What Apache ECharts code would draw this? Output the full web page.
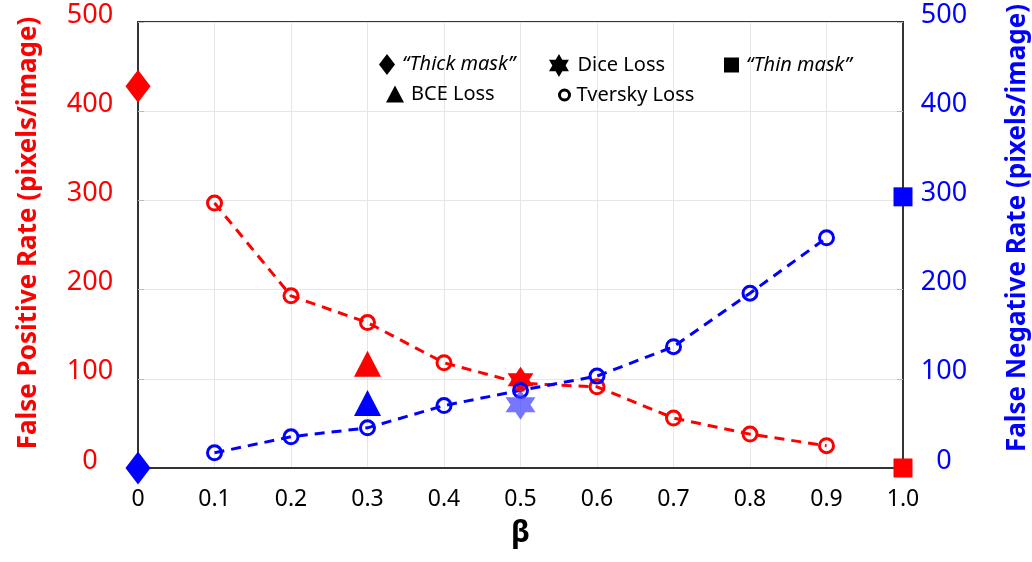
<!DOCTYPE html>
<html>
<head>
<meta charset="utf-8">
<script src="https://cdn.jsdelivr.net/npm/echarts@6/dist/echarts.min.js"></script>
<style>
  html, body { margin: 0; padding: 0; background: #fff; }
  #chart { width: 1032px; height: 562px; }
</style>
</head>
<body>
<div id="chart"></div>
<script>
// beta values and tick labels
const betas = [0.1, 0.2, 0.3, 0.4, 0.5, 0.6, 0.7, 0.8, 0.9];
const xLabels = ['0', '0.1', '0.2', '0.3', '0.4', '0.5', '0.6', '0.7', '0.8', '0.9', '1.0'];

// Tversky loss (FP on left axis, FN on right axis)
const tverskyFP = [297, 193, 163, 118, 95, 91, 56, 38, 25];
const tverskyFN = [17, 35, 45, 70, 87, 103, 136, 196, 258];

// single-point methods: [beta, value]
const thickFP = [[0, 428]];
const thickFN = [[0, 0]];
const thinFP = [[1.0, 0]];
const thinFN = [[1.0, 304]];
const bceFP = [[0.3, 117]];
const bceFN = [[0.3, 73]];
const diceFP = [[0.5, 99]];
const diceFN = [[0.5, 71]];

const RED = '#ff0000';
const BLUE = '#0000ff';
const FONT = 'Noto Sans';
const star = 'path://M0,-10 L8.66,5 L-8.66,5 Z M0,10 L-8.66,-5 L8.66,-5 Z';

const chart = echarts.init(document.getElementById('chart'));

function point(name, data, yIdx, color, symbol, size, z) {
  return {
    name: name,
    type: 'scatter',
    yAxisIndex: yIdx,
    data: data,
    symbol: symbol,
    symbolSize: size,
    clip: false,
    z: z || 3,
    itemStyle: { color: color, opacity: 1 }
  };
}

function tversky(data, yIdx, color) {
  return {
    name: 'Tversky Loss',
    type: 'line',
    yAxisIndex: yIdx,
    data: betas.map((b, i) => [b, data[i]]),
    symbol: 'circle',
    symbolSize: 14,
    showAllSymbol: true,
    z: 4,
    lineStyle: { color: color, width: 3, type: [10, 7] },
    itemStyle: { color: 'rgba(255,255,255,0)', borderColor: color, borderWidth: 3 }
  };
}

function legendAt(left, top, name, icon, w, h, italic, hollow) {
  return {
    left: left,
    top: top,
    selectedMode: false,
    itemWidth: w,
    itemHeight: h,
    itemGap: 0,
    textStyle: { fontFamily: FONT, fontSize: 20, color: '#000', fontStyle: italic ? 'italic' : 'normal', padding: [0, 0, 0, 2] },
    data: [{
      name: name,
      icon: icon,
      itemStyle: hollow
        ? { color: 'rgba(255,255,255,0)', borderColor: '#000', borderWidth: 3 }
        : { color: '#000', opacity: 1 }
    }]
  };
}

function yLabel(color, margin) {
  return {
    color: color, fontFamily: FONT, fontSize: 27, margin: margin, align: 'center',
    formatter: v => '{v|' + v + '}',
    rich: { v: { color: color, fontFamily: FONT, fontSize: 27, padding: [0, 0, 14, 0] } }
  };
}

chart.setOption({
  animation: false,
  backgroundColor: '#fff',
  grid: {
    left: 138, right: 129, top: 22, bottom: 94,
    outerBoundsMode: 'none',
    containLabel: false,
    show: true, borderColor: '#333', borderWidth: 2
  },
  legend: [
    legendAt(374, 49, '\u201cThick mask\u201d', 'diamond', 16, 21, true),
    legendAt(544, 49, 'Dice Loss', star, 23, 23, false),
    legendAt(719, 50, '\u201cThin mask\u201d', 'rect', 15, 15, true),
    legendAt(381, 79, 'BCE Loss', 'triangle', 18, 17, false),
    legendAt(553, 80, 'Tversky Loss', 'circle', 10, 10, false, true)
  ],
  xAxis: {
    type: 'value',
    min: 0, max: 1, interval: 0.1,
    name: '\u03b2',
    nameLocation: 'middle',
    nameGap: 50,
    nameTextStyle: { fontFamily: FONT, fontSize: 30, fontWeight: 'bold', color: '#000' },
    axisLine: { onZero: false, lineStyle: { color: '#333', width: 2 } },
    axisTick: { show: false },
    splitLine: { show: true, lineStyle: { color: '#e6e6e6', width: 1 } },
    axisLabel: {
      color: '#000', fontFamily: FONT, fontSize: 23, margin: 20,
      formatter: v => xLabels[Math.round(v * 10)]
    }
  },
  yAxis: [{
    type: 'value',
    min: 0, max: 500, interval: 100,
    position: 'left',
    name: 'False Positive Rate (pixels/image)',
    nameLocation: 'middle',
    nameRotate: 90,
    nameGap: 96,
    nameTextStyle: { fontFamily: FONT, fontSize: 26, fontWeight: 'bold', color: RED, padding: [0, 0, 0, 24] },
    axisLine: { show: true, lineStyle: { color: '#333', width: 2 } },
    axisTick: { show: true, inside: true, length: 6, lineStyle: { color: '#bbb' } },
    splitLine: { show: true, lineStyle: { color: '#e6e6e6', width: 1 } },
    axisLabel: yLabel(RED, 48)
  }, {
    type: 'value',
    min: 0, max: 500, interval: 100,
    position: 'right',
    name: 'False Negative Rate (pixels/image)',
    nameLocation: 'middle',
    nameRotate: 90,
    nameGap: 102,
    nameTextStyle: { fontFamily: FONT, fontSize: 26, fontWeight: 'bold', color: BLUE, padding: [0, 0, 0, 34] },
    axisLine: { show: true, lineStyle: { color: '#333', width: 2 } },
    axisTick: { show: true, inside: true, length: 6, lineStyle: { color: '#bbb' } },
    splitLine: { show: false },
    axisLabel: yLabel(BLUE, 41)
  }],
  series: [
    point('\u201cThick mask\u201d', thickFP, 0, RED, 'diamond', [25, 33]),
    point('\u201cThick mask\u201d', thickFN, 1, BLUE, 'diamond', [25, 33]),
    point('\u201cThin mask\u201d', thinFP, 0, RED, 'rect', 19),
    point('\u201cThin mask\u201d', thinFN, 1, BLUE, 'rect', 19),
    point('BCE Loss', bceFP, 0, RED, 'triangle', [27, 26]),
    point('BCE Loss', bceFN, 1, BLUE, 'triangle', [27, 26]),
    point('Dice Loss', diceFP, 0, RED, star, 26, 2),
    tversky(tverskyFP, 0, RED),
    tversky(tverskyFN, 1, BLUE),
    point('Dice Loss', diceFN, 1, 'rgba(60,60,255,0.7)', star, 30, 5)
  ]
});
</script>
</body>
</html>
